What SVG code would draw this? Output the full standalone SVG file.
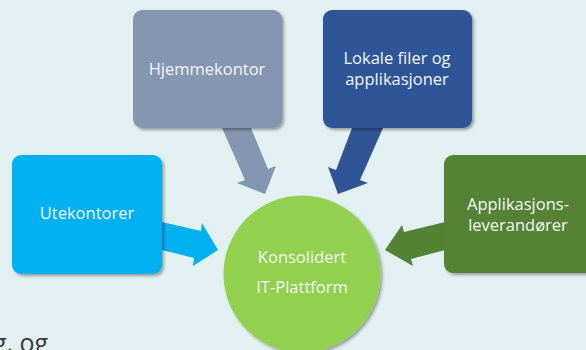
<svg xmlns="http://www.w3.org/2000/svg" width="586" height="350" viewBox="0 0 586 350">
  <defs>
    <filter id="sh" x="-10%" y="-10%" width="130%" height="130%">
      <feGaussianBlur in="SourceAlpha" stdDeviation="1.6"/>
      <feOffset dx="1.5" dy="2" result="b"/>
      <feComponentTransfer><feFuncA type="linear" slope="0.35"/></feComponentTransfer>
      <feMerge><feMergeNode/><feMergeNode in="SourceGraphic"/></feMerge>
    </filter>
  </defs>
  <style>
    .lbl { font-family: "Open Sans", "Noto Sans", sans-serif; font-size: 16.5px; fill: #F4F6F4; text-anchor: middle; }
    .box { filter: url(#sh); }
  </style>
  <rect x="0" y="0" width="586" height="350" fill="#E2F0F1"/>

  <g id="connectors">
    <polygon points="222,128 251,128 268,169 276,166 265,194 237,183 245,180" fill="#8496B0"/>
    <polygon points="352,128 383,128 360,180 368,183 338,194 328,167 336,170" fill="#2F5597"/>
    <polygon points="162,222 201,231 202,223 218,250 193,266 194,258 162,250" fill="#00B0F0"/>
    <polygon points="445,222 404,232 402,225 385,250 413,266 411,259 445,250" fill="#548235"/>
  </g>

  <g id="hjemmekontor">
    <rect class="box" x="133" y="10" width="149" height="118" rx="9" fill="#8496B0"/>
    <text class="lbl" x="207" y="75">Hjemmekontor</text>
  </g>
  <g id="lokale">
    <rect class="box" x="323" y="10" width="149" height="118" rx="9" fill="#2F5597"/>
    <text class="lbl" x="397" y="64">Lokale filer og</text>
    <text class="lbl" x="397" y="85">applikasjoner</text>
  </g>
  <g id="utekontorer">
    <rect class="box" x="12" y="155" width="150" height="119" rx="9" fill="#00B0F0"/>
    <text class="lbl" x="87" y="219">Utekontorer</text>
  </g>
  <g id="applikasjon">
    <rect class="box" x="444" y="155" width="160" height="118" rx="9" fill="#548235"/>
    <text class="lbl" x="518" y="210">Applikasjons-</text>
    <text class="lbl" x="518" y="231">leverandører</text>
  </g>
  <g id="plattform">
    <circle class="box" cx="302" cy="274" r="78.5" fill="#92D050"/>
    <text class="lbl" x="302" y="263">Konsolidert</text>
    <text class="lbl" x="302" y="293">IT-Plattform</text>
  </g>

  <text x="-7" y="352" font-family="'Open Sans', 'Noto Sans', sans-serif" font-size="25" fill="#3A3A3A">g, og</text>
</svg>
